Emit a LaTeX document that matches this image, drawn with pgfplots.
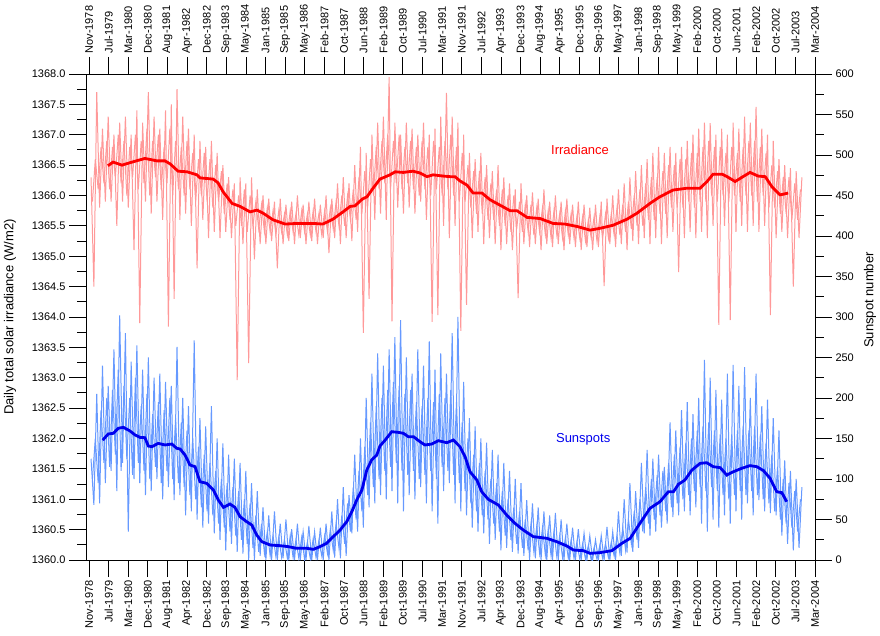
\documentclass[border=0pt]{standalone}
\usepackage{fontspec}
\setmainfont{Liberation Sans}
\usepackage{pgfplots}
\usepackage{pgfplotstable}
\pgfplotsset{compat=1.18}
\definecolor{pinkline}{HTML}{FF9999}
\definecolor{lightblue}{HTML}{6699FF}
\definecolor{deepblue}{HTML}{0000EE}

\pgfplotstableread{
t irr ss
1978.9 1366.3 125
1979.0 1364.5 68
1979.1 1367.7 205
1979.2 1365.8 70
1979.3 1367.1 240
1979.4 1365.9 95
1979.5 1367.3 215
1979.6 1365.9 110
1979.7 1367.0 260
1979.8 1365.5 85
1979.9 1367.2 302
1980.0 1365.9 120
1980.1 1367.3 280
1980.2 1365.8 35
1980.3 1367.0 245
1980.4 1365.1 100
1980.5 1367.4 265
1980.6 1363.9 95
1980.7 1367.2 235
1980.8 1365.9 80
1980.9 1367.7 250
1981.0 1365.7 85
1981.1 1367.3 225
1981.2 1365.9 100
1981.3 1367.1 230
1981.4 1365.6 75
1981.5 1367.4 220
1981.6 1363.84 90
1981.7 1367.5 215
1981.8 1364.3 74
1981.9 1367.75 263
1982.0 1365.6 80
1982.1 1367.3 200
1982.2 1365.7 55
1982.3 1367.1 190
1982.4 1365.5 60
1982.5 1367.0 271
1982.6 1364.8 50
1982.7 1366.9 175
1982.8 1365.6 40
1982.9 1366.8 165
1983.0 1365.3 45
1983.1 1366.9 190
1983.2 1365.4 33
1983.3 1366.7 150
1983.4 1365.3 25
1983.5 1366.5 144
1983.6 1365.4 12
1983.7 1366.3 130
1983.8 1365.3 20
1983.9 1366.2 125
1984.0 1362.96 10
1984.1 1366.3 120
1984.2 1365.2 8
1984.3 1366.2 110
1984.4 1363.24 0
1984.5 1366.3 95
1984.6 1364.95 0
1984.7 1366.1 85
1984.8 1365.2 5
1984.9 1366.0 65
1985.0 1365.2 0
1985.1 1365.95 55
1985.2 1365.25 0
1985.3 1365.9 60
1985.4 1364.8 0
1985.5 1365.95 45
1985.6 1365.2 2
1985.7 1365.85 50
1985.8 1365.25 0
1985.9 1365.9 38
1986.0 1365.2 0
1986.1 1366.0 45
1986.2 1365.3 0
1986.3 1365.85 35
1986.4 1365.2 0
1986.5 1365.9 42
1986.6 1365.25 0
1986.7 1365.95 35
1986.8 1365.2 0
1986.9 1365.85 40
1987.0 1365.3 0
1987.1 1366.0 45
1987.2 1365.05 0
1987.3 1365.95 60
1987.4 1365.3 3
1987.5 1366.2 75
1987.6 1365.2 2
1987.7 1366.3 90
1987.8 1365.3 5
1987.9 1366.2 80
1988.0 1365.25 33
1988.1 1366.5 130
1988.2 1365.4 35
1988.3 1366.8 150
1988.4 1363.74 40
1988.5 1366.7 200
1988.6 1364.3 65
1988.7 1367.0 230
1988.8 1365.6 70
1988.9 1367.2 255
1989.0 1365.7 80
1989.1 1367.3 240
1989.2 1365.6 75
1989.3 1367.95 260
1989.4 1363.93 85
1989.5 1367.2 275
1989.6 1365.8 70
1989.7 1367.0 296
1989.8 1365.7 60
1989.9 1367.2 250
1990.0 1365.8 80
1990.1 1367.1 230
1990.2 1365.7 75
1990.3 1367.0 260
1990.4 1365.9 90
1990.5 1367.2 240
1990.6 1365.6 70
1990.7 1367.0 270
1990.8 1363.92 60
1990.9 1367.1 235
1991.0 1364.03 45
1991.1 1367.3 255
1991.2 1365.5 85
1991.3 1367.69 230
1991.4 1365.3 95
1991.5 1367.3 280
1991.6 1365.5 70
1991.7 1367.2 300
1991.8 1363.77 60
1991.9 1367.0 220
1992.0 1364.2 55
1992.1 1366.7 175
1992.2 1365.3 40
1992.3 1366.6 165
1992.4 1365.4 35
1992.5 1366.7 150
1992.6 1365.2 33
1992.7 1366.5 145
1992.8 1365.3 20
1992.9 1366.4 136
1993.0 1365.2 25
1993.1 1366.5 130
1993.2 1365.1 12
1993.3 1366.3 120
1993.4 1365.2 15
1993.5 1366.2 110
1993.6 1365.1 10
1993.7 1366.1 100
1993.8 1364.31 8
1993.9 1366.2 95
1994.0 1365.2 5
1994.1 1366.0 74
1994.2 1365.15 0
1994.3 1366.05 70
1994.4 1365.2 2
1994.5 1365.95 65
1994.6 1365.1 0
1994.7 1366.1 60
1994.8 1365.2 0
1994.9 1365.9 55
1995.0 1365.15 0
1995.1 1366.0 58
1995.2 1365.2 0
1995.3 1365.9 50
1995.4 1365.1 0
1995.5 1365.95 45
1995.6 1365.2 0
1995.7 1365.85 40
1995.8 1365.15 0
1995.9 1365.9 38
1996.0 1365.1 0
1996.1 1365.85 33
1996.2 1365.15 0
1996.3 1365.8 30
1996.4 1365.1 0
1996.5 1365.85 25
1996.6 1365.15 0
1996.7 1365.9 30
1996.8 1364.51 0
1996.9 1365.95 41
1997.0 1365.2 0
1997.1 1366.0 35
1997.2 1365.15 0
1997.3 1366.1 60
1997.4 1365.2 5
1997.5 1366.2 75
1997.6 1365.1 9
1997.7 1366.3 95
1997.8 1365.25 10
1997.9 1366.4 85
1998.0 1365.2 15
1998.1 1366.5 120
1998.2 1365.3 33
1998.3 1366.6 136
1998.4 1365.2 30
1998.5 1366.7 125
1998.6 1365.3 35
1998.7 1366.8 130
1998.8 1365.2 40
1998.9 1366.7 115
1999.0 1365.3 45
1999.1 1366.8 170
1999.2 1365.4 53
1999.3 1366.7 160
1999.4 1364.74 55
1999.5 1366.8 185
1999.6 1365.3 60
1999.7 1366.9 195
1999.8 1365.4 55
1999.9 1367.0 180
2000.0 1365.3 65
2000.1 1367.1 200
2000.2 1365.4 45
2000.3 1367.2 247
2000.4 1365.3 35
2000.5 1367.19 225
2000.6 1365.5 50
2000.7 1367.0 210
2000.8 1363.87 40
2000.9 1367.1 198
2001.0 1365.5 55
2001.1 1367.0 230
2001.2 1363.95 45
2001.3 1367.2 241
2001.4 1365.4 60
2001.5 1367.1 215
2001.6 1365.5 50
2001.7 1367.3 238
2001.8 1365.4 70
2001.9 1367.2 200
2002.0 1365.5 55
2002.1 1367.46 230
2002.2 1365.4 74
2002.3 1367.1 190
2002.4 1365.5 60
2002.5 1367.0 198
2002.6 1364.03 58
2002.7 1366.9 175
2002.8 1365.3 55
2002.9 1366.6 160
2003.0 1365.4 30
2003.1 1366.5 123
2003.2 1365.3 20
2003.3 1366.45 110
2003.4 1364.5 12
2003.5 1366.4 100
2003.6 1365.3 15
2003.7 1366.3 90
}\rawdata

\pgfplotstableread{
t irr ss
1978.95 1365.9 100
1979.05 1366.6 150
1979.15 1366.1 95
1979.25 1366.8 185
1979.35 1366.2 120
1979.45 1366.9 200
1979.55 1366.1 115
1979.65 1366.8 210
1979.75 1366.3 130
1979.85 1367.0 235
1979.95 1366.2 110
1980.05 1366.9 215
1980.15 1366.0 125
1980.25 1366.8 200
1980.35 1366.3 105
1980.45 1367.0 225
1980.55 1366.1 120
1980.65 1366.9 190
1980.75 1366.2 110
1980.85 1367.1 205
1980.95 1366.0 100
1981.05 1366.9 180
1981.15 1366.3 115
1981.25 1367.0 195
1981.35 1366.1 95
1981.45 1366.8 185
1981.55 1366.2 110
1981.65 1367.1 200
1981.75 1366.0 100
1981.85 1366.9 175
1981.95 1366.1 95
1982.05 1366.8 170
1982.15 1366.0 90
1982.25 1366.9 160
1982.35 1366.1 80
1982.45 1366.7 150
1982.55 1365.9 75
1982.65 1366.6 140
1982.75 1366.0 65
1982.85 1366.7 130
1982.95 1365.9 60
1983.05 1366.6 120
1983.15 1365.8 55
1983.25 1366.5 110
1983.35 1365.9 45
1983.45 1366.4 100
1983.55 1365.7 40
1983.65 1366.2 95
1983.75 1365.6 35
1983.85 1366.1 90
1983.95 1365.5 30
1984.05 1366.0 85
1984.15 1365.5 25
1984.25 1366.1 75
1984.35 1365.4 20
1984.45 1366.0 70
1984.55 1365.5 15
1984.65 1365.9 55
1984.75 1365.45 10
1984.85 1365.85 45
1984.95 1365.4 8
1985.05 1365.8 35
1985.15 1365.4 5
1985.25 1365.75 30
1985.35 1365.35 4
1985.45 1365.75 28
1985.55 1365.4 3
1985.65 1365.7 25
1985.75 1365.35 2
1985.85 1365.75 30
1985.95 1365.4 3
1986.05 1365.7 25
1986.15 1365.35 2
1986.25 1365.75 28
1986.35 1365.4 1
1986.45 1365.7 22
1986.55 1365.35 2
1986.65 1365.75 26
1986.75 1365.4 3
1986.85 1365.7 24
1986.95 1365.35 5
1987.05 1365.75 30
1987.15 1365.4 8
1987.25 1365.8 38
1987.35 1365.45 12
1987.45 1365.9 45
1987.55 1365.5 15
1987.65 1366.0 55
1987.75 1365.5 20
1987.85 1366.0 70
1987.95 1365.6 35
1988.05 1366.1 90
1988.15 1365.6 50
1988.25 1366.3 110
1988.35 1365.7 60
1988.45 1366.4 140
1988.55 1365.8 80
1988.65 1366.6 170
1988.75 1366.0 90
1988.85 1366.8 190
1988.95 1366.1 100
1989.05 1366.9 200
1989.15 1366.2 110
1989.25 1367.0 210
1989.35 1366.1 115
1989.45 1366.9 220
1989.55 1366.2 120
1989.65 1367.0 215
1989.75 1366.1 110
1989.85 1366.8 205
1989.95 1366.2 105
1990.05 1366.9 210
1990.15 1366.1 110
1990.25 1366.8 195
1990.35 1366.0 100
1990.45 1366.9 190
1990.55 1366.1 105
1990.65 1366.8 200
1990.75 1366.0 110
1990.85 1366.9 195
1990.95 1366.1 100
1991.05 1366.8 205
1991.15 1366.0 115
1991.25 1366.9 200
1991.35 1366.1 110
1991.45 1367.0 210
1991.55 1366.0 105
1991.65 1366.8 195
1991.75 1365.9 95
1991.85 1366.7 170
1991.95 1365.9 85
1992.05 1366.5 150
1992.15 1365.8 70
1992.25 1366.4 130
1992.35 1365.7 60
1992.45 1366.4 120
1992.55 1365.7 55
1992.65 1366.3 110
1992.75 1365.6 50
1992.85 1366.2 100
1992.95 1365.6 45
1993.05 1366.1 95
1993.15 1365.5 35
1993.25 1366.1 85
1993.35 1365.5 30
1993.45 1366.0 75
1993.55 1365.4 25
1993.65 1366.0 65
1993.75 1365.45 20
1993.85 1365.9 60
1993.95 1365.4 15
1994.05 1365.85 50
1994.15 1365.4 12
1994.25 1365.85 45
1994.35 1365.35 10
1994.45 1365.8 42
1994.55 1365.4 8
1994.65 1365.8 40
1994.75 1365.35 6
1994.85 1365.75 38
1994.95 1365.3 5
1995.05 1365.75 35
1995.15 1365.35 4
1995.25 1365.7 30
1995.35 1365.3 3
1995.45 1365.75 28
1995.55 1365.35 2
1995.65 1365.7 25
1995.75 1365.3 2
1995.85 1365.65 22
1995.95 1365.3 1
1996.05 1365.65 20
1996.15 1365.25 1
1996.25 1365.6 18
1996.35 1365.3 0
1996.45 1365.65 15
1996.55 1365.25 1
1996.65 1365.65 18
1996.75 1365.3 2
1996.85 1365.7 20
1996.95 1365.3 3
1997.05 1365.7 22
1997.15 1365.35 5
1997.25 1365.8 30
1997.35 1365.35 8
1997.45 1365.85 40
1997.55 1365.4 12
1997.65 1365.9 50
1997.75 1365.45 20
1997.85 1366.0 60
1997.95 1365.5 25
1998.05 1366.1 75
1998.15 1365.5 35
1998.25 1366.2 90
1998.35 1365.6 45
1998.45 1366.3 100
1998.55 1365.6 50
1998.65 1366.3 105
1998.75 1365.7 55
1998.85 1366.4 110
1998.95 1365.7 60
1999.05 1366.5 120
1999.15 1365.8 65
1999.25 1366.5 130
1999.35 1365.8 70
1999.45 1366.6 140
1999.55 1365.8 75
1999.65 1366.6 145
1999.75 1365.9 80
1999.85 1366.7 150
1999.95 1365.8 85
2000.05 1366.7 160
2000.15 1365.9 90
2000.25 1366.8 165
2000.35 1365.9 85
2000.45 1366.9 170
2000.55 1366.0 90
2000.65 1366.8 160
2000.75 1365.9 85
2000.85 1366.8 155
2000.95 1366.0 80
2001.05 1366.7 150
2001.15 1365.9 75
2001.25 1366.8 155
2001.35 1366.0 80
2001.45 1366.7 160
2001.55 1365.9 85
2001.65 1366.8 165
2001.75 1366.0 80
2001.85 1366.9 160
2001.95 1366.0 85
2002.05 1366.9 165
2002.15 1365.9 80
2002.25 1366.8 155
2002.35 1366.0 75
2002.45 1366.7 145
2002.55 1365.8 70
2002.65 1366.5 130
2002.75 1365.8 60
2002.85 1366.4 115
2002.95 1365.7 50
2003.05 1366.3 100
2003.15 1365.7 45
2003.25 1366.3 95
2003.35 1365.6 40
2003.45 1366.2 85
2003.55 1365.6 35
2003.65 1366.1 75
}\rawdatab

\pgfplotstableread{
t v
1979.49 1366.49
1979.67 1366.55
1979.98 1366.50
1980.26 1366.54
1980.78 1366.61
1981.20 1366.57
1981.48 1366.57
1981.66 1366.52
1981.94 1366.40
1982.25 1366.39
1982.60 1366.34
1982.70 1366.29
1983.16 1366.27
1983.33 1366.21
1983.51 1366.06
1983.82 1365.87
1984.10 1365.82
1984.45 1365.73
1984.69 1365.76
1984.90 1365.71
1985.25 1365.60
1985.67 1365.53
1986.09 1365.54
1986.65 1365.54
1986.99 1365.53
1987.34 1365.61
1987.69 1365.73
1987.94 1365.82
1988.11 1365.83
1988.36 1365.94
1988.53 1365.98
1988.74 1366.12
1988.98 1366.27
1989.33 1366.34
1989.51 1366.39
1989.79 1366.38
1990.13 1366.40
1990.38 1366.37
1990.62 1366.31
1990.83 1366.34
1991.18 1366.32
1991.43 1366.31
1991.60 1366.31
1991.77 1366.24
1992.02 1366.17
1992.23 1366.04
1992.54 1366.04
1992.82 1365.93
1993.17 1365.84
1993.52 1365.75
1993.76 1365.75
1994.11 1365.64
1994.57 1365.62
1995.02 1365.54
1995.44 1365.53
1995.86 1365.49
1996.31 1365.43
1996.66 1365.46
1997.11 1365.51
1997.60 1365.61
1997.95 1365.71
1998.40 1365.87
1998.75 1365.98
1999.21 1366.09
1999.69 1366.12
2000.15 1366.12
2000.39 1366.23
2000.60 1366.35
2000.92 1366.35
2001.09 1366.31
2001.37 1366.23
2001.61 1366.30
2001.89 1366.38
2002.17 1366.32
2002.42 1366.31
2002.66 1366.14
2002.94 1366.01
2003.22 1366.04
}\irrsmooth

\pgfplotstableread{
t v
1979.31 148
1979.50 155.6
1979.68 156.4
1979.85 162.6
1980.03 163.8
1980.26 159.3
1980.44 154.3
1980.61 151.4
1980.78 151
1980.90 140.7
1981.02 139.9
1981.25 144
1981.48 142
1981.72 143.2
1981.89 137.9
1982.01 137
1982.18 129.6
1982.35 117.3
1982.53 115.2
1982.70 96.7
1982.94 94.6
1983.17 86.4
1983.34 74.1
1983.52 65
1983.75 69.1
1983.92 65
1984.10 53.5
1984.33 47.3
1984.51 43.2
1984.68 30.9
1984.86 22.6
1985.15 18.5
1985.49 17.7
1985.78 16.5
1986.08 14.4
1986.43 14.4
1986.66 13.2
1986.89 16.5
1987.12 20.6
1987.35 28.8
1987.59 37
1987.82 47.3
1988.00 59.7
1988.17 74.1
1988.35 86.4
1988.52 111
1988.69 123.5
1988.87 129.6
1988.98 140.7
1989.16 148
1989.39 158.4
1989.62 157.6
1989.80 156.4
1989.97 152.2
1990.15 152.2
1990.38 146
1990.55 142
1990.79 143.2
1991.02 147.3
1991.31 144.8
1991.54 148.1
1991.77 139.9
1991.95 127.5
1992.12 109
1992.36 98.8
1992.53 84.3
1992.76 74.9
1993.11 67.9
1993.40 55.6
1993.69 45.3
1993.98 37
1994.33 28.8
1994.80 26.8
1995.15 22.6
1995.50 17.3
1995.73 12.3
1996.08 11.5
1996.31 8.2
1996.66 9.1
1997.07 11.5
1997.42 20.6
1997.71 26.8
1998.05 45.3
1998.40 63.8
1998.75 72
1999.04 84.3
1999.22 84.3
1999.39 93.4
1999.62 98.8
1999.86 111
2000.15 119.3
2000.38 120.1
2000.61 115.2
2000.85 114
2001.08 104.9
2001.31 109
2001.60 113.2
2001.89 116.5
2002.13 115.2
2002.36 110.3
2002.59 100.9
2002.82 84.3
2003.00 83.1
2003.17 72
}\sssmooth

\pgfplotsset{
  common/.style={
    at={(0pt,0pt)}, anchor=south west,
    scale only axis, width=729pt, height=486pt,
    xmin=1978.725, xmax=2004.157,
    xtick={1978.83,1979.5145,...,2004.2},
    xticklabels={Nov-1978,Jul-1979,Mar-1980,Dec-1980,Aug-1981,Apr-1982,Dec-1982,Sep-1983,May-1984,Jan-1985,Sep-1985,May-1986,Feb-1987,Oct-1987,Jun-1988,Feb-1989,Oct-1989,Jul-1990,Mar-1991,Nov-1991,Jul-1992,Apr-1993,Dec-1993,Aug-1994,Apr-1995,Dec-1995,Sep-1996,May-1997,Jan-1998,Sep-1998,May-1999,Feb-2000,Oct-2000,Jun-2001,Feb-2002,Oct-2002,Jul-2003,Mar-2004},
    minor x tick num=1,
    minor y tick num=1,
    tick align=outside,
    major tick length=17pt,
    minor tick length=9pt,
    tick style={black, line width=0.9pt},
    axis line style={black, line width=0.9pt},
    ticklabel style={font=\fontsize{11}{13}\selectfont},
    label style={font=\fontsize{13}{15}\selectfont},
    /pgf/number format/assume math mode=true,
    clip=true,
  }
}

\begin{document}
\begin{tikzpicture}
\useasboundingbox (-86pt,-75pt) rectangle (794pt,560pt);
\begin{axis}[common,
  ymin=1360, ymax=1368,
  axis x line*=bottom, axis y line*=left,
  ytick distance=0.5,
  yticklabel style={/pgf/number format/.cd, fixed, fixed zerofill, precision=1, 1000 sep={}},
  xticklabel style={rotate=90, anchor=east},
  ylabel={Daily total solar irradiance (W/m2)},
  ylabel style={at={(axis description cs:-0.1043,0.5)}, anchor=center},
]
\addplot[pinkline, line width=1pt] table[x=t, y=irr] {\rawdatab};
\addplot[pinkline, line width=1pt] table[x=t, y=irr] {\rawdata};
\addplot[red, line width=2.8pt] table[x=t, y=v] {\irrsmooth};
\node[red, font=\fontsize{13}{15}\selectfont] at (axis cs:1995.96,1366.75) {Irradiance};
\end{axis}
\begin{axis}[common,
  ymin=0, ymax=600,
  axis x line*=top, axis y line*=right,
  ytick distance=50,
  yticklabel style={/pgf/number format/.cd, fixed, precision=0, 1000 sep={}},
  xticklabel style={rotate=90, anchor=west},
  ylabel={Sunspot number},
  ylabel style={at={(axis description cs:1.0754,0.535)}, anchor=center},
]
\addplot[lightblue, line width=1pt] table[x=t, y=ss] {\rawdatab};
\addplot[lightblue, line width=1pt] table[x=t, y=ss] {\rawdata};
\addplot[deepblue, line width=2.8pt] table[x=t, y=v] {\sssmooth};
\node[deepblue, font=\fontsize{13}{15}\selectfont] at (axis cs:1996.07,149) {Sunspots};
\end{axis}
\end{tikzpicture}
\end{document}
